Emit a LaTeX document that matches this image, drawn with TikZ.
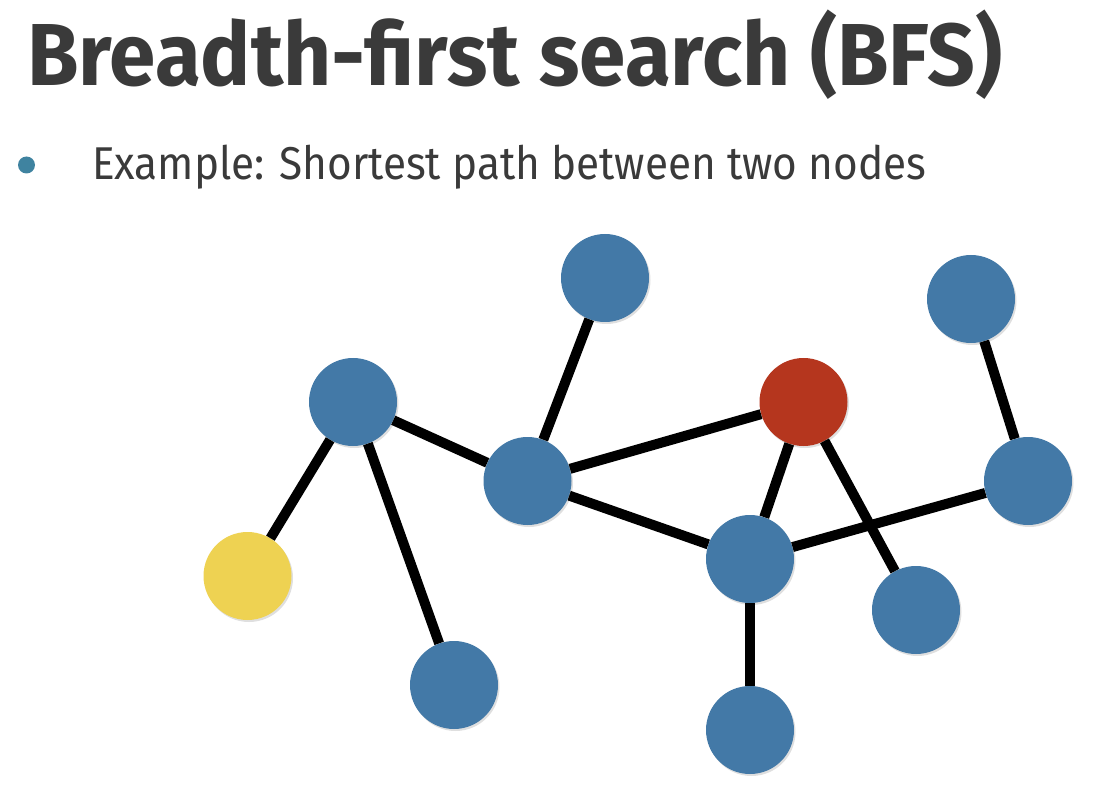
\documentclass[tikz,border=0pt]{standalone}
\usepackage{fontspec}
\setmainfont{Fira Sans}
\usepackage{tikz}
\usetikzlibrary{shadows}
\definecolor{vblue}{RGB}{67,121,167}
\definecolor{vred}{RGB}{181,54,30}
\definecolor{vyellow}{RGB}{238,210,82}
\definecolor{textgray}{RGB}{58,58,58}
\definecolor{bullet}{RGB}{63,131,160}
\tikzstyle{vertex}=[circle,minimum size=88pt,inner sep=0pt,fill=vblue,
  drop shadow={opacity=0.25,shadow xshift=1.5pt,shadow yshift=-2pt}]
\tikzstyle{edge}=[line width=10pt,black]
\tikzstyle{slidetext}=[anchor=base west,inner sep=0pt,text=textgray,transform shape]

\begin{document}
\begin{tikzpicture}[x=1pt,y=-1pt]
          \useasboundingbox (0,0) rectangle (1106,802);
          \node[slidetext,xscale=0.95,font=\fontsize{88}{96}\selectfont\bfseries] (Title) at (27,86) {Breadth-first search (BFS)};
          \fill[bullet] (26.5,165) circle (8.5);
          \node[slidetext,xscale=0.92,font=\fontsize{46}{52}\selectfont] (Example) at (92,180) {Example: Shortest path between two nodes};
          % graph
          \node[vertex] (TopC) at (605,278) {};
          \node[vertex] (TopR) at (971,299) {};
          \node[vertex] (Left) at (353,402) {};
          \node[vertex,fill=vred] (Goal) at (803.5,402) {};
          \node[vertex] (Mid) at (527.5,481) {};
          \node[vertex] (Right) at (1028,481) {};
          \node[vertex,fill=vyellow] (Start) at (247.5,576) {};
          \node[vertex] (Hub) at (750,559) {};
          \node[vertex] (LowR) at (916,610) {};
          \node[vertex] (LowL) at (454,685) {};
          \node[vertex] (Bottom) at (750,730) {};
          \draw[edge] (Left) -- (Mid);
          \draw[edge] (Left) -- (Start);
          \draw[edge] (Left) -- (LowL);
          \draw[edge] (Mid) -- (TopC);
          \draw[edge] (Mid) -- (Goal);
          \draw[edge] (Mid) -- (Hub);
          \draw[edge] (Goal) -- (Hub);
          \draw[edge] (Goal) -- (LowR);
          \draw[edge] (Hub) -- (Right);
          \draw[edge] (Hub) -- (Bottom);
          \draw[edge] (TopR) -- (Right);
        \end{tikzpicture}
\end{document}
